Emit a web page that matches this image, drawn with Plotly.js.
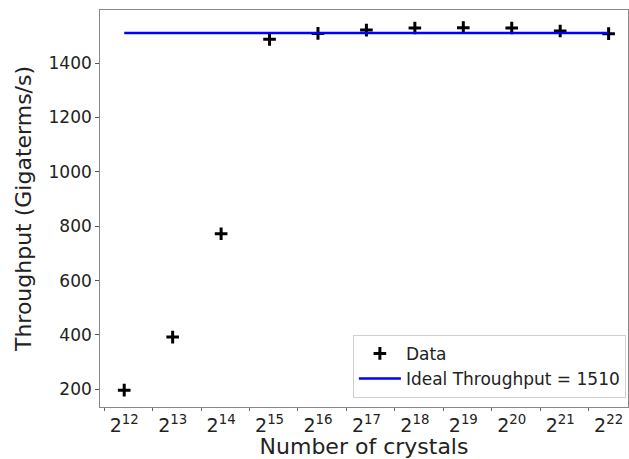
<!DOCTYPE html>
<html>
<head>
<meta charset="utf-8">
<script src="https://cdn.plot.ly/plotly-3.0.1.min.js"></script>
<style>html,body{margin:0;padding:0;background:#fff;}#chart{width:629px;height:459px;}</style>
</head>
<body>
<div id="chart"></div>
<script>
const exponents = [12, 13, 14, 15, 16, 17, 18, 19, 20, 21, 22];
const throughput = [197, 392, 772, 1487, 1509, 1521, 1529, 1530, 1529, 1518, 1508];
const idealValue = 1510;
const idealLabel = "Ideal Throughput = 1510";
const yTicks = [200, 400, 600, 800, 1000, 1200, 1400];
const crystals = exponents.map(e => Math.pow(2, e));
const tickText = exponents.map(e => "2<sup>" + e + "</sup>");
const minorVals = [11].concat(exponents).map(e => 1.5 * Math.pow(2, e));

const traces = [
  {
    x: crystals, y: throughput, type: "scatter", mode: "markers", name: "Data",
    marker: {symbol: "cross-thin-open", size: 9, color: "black", line: {color: "black", width: 3}}
  },
  {
    x: [crystals[0], crystals[crystals.length - 1]], y: [idealValue, idealValue],
    type: "scatter", mode: "lines", name: idealLabel,
    line: {color: "#0000ff", width: 2.5}
  }
];

const layout = {
  width: 629, height: 459,
  margin: {l: 100, r: 1, t: 10, b: 52},
  paper_bgcolor: "white", plot_bgcolor: "white",
  font: {family: "DejaVu Sans, sans-serif", size: 17, color: "#222"},
  showlegend: true,
  legend: {
    x: 0.996, y: 0.023, xanchor: "right", yanchor: "bottom",
    bgcolor: "white", bordercolor: "#d0d0d0", borderwidth: 1,
    itemwidth: 42,
    font: {size: 17, color: "#222"}
  },
  xaxis: {
    type: "log",
    range: [Math.log10(Math.pow(2, 11.5)), Math.log10(Math.pow(2, 22.4))],
    tickvals: crystals, ticktext: tickText,
    ticks: "outside", ticklen: 1, tickcolor: "rgba(0,0,0,0)",
    minor: {tickvals: minorVals, ticks: "outside", ticklen: 2.5, tickcolor: "#666", tickwidth: 1, showgrid: false},
    showgrid: false, zeroline: false,
    showline: true, linecolor: "#888", linewidth: 1.3, mirror: true,
    tickfont: {size: 19, color: "#222"},
    title: {text: "Number of crystals", font: {size: 22, color: "#222"}, standoff: 4}
  },
  yaxis: {
    range: [135, 1595],
    tickvals: yTicks,
    ticks: "outside", ticklen: 3.5, tickcolor: "#555",
    showgrid: false, zeroline: false,
    showline: true, linecolor: "#888", linewidth: 1.3, mirror: true,
    tickfont: {size: 17, color: "#222"},
    title: {text: "Throughput (Gigaterms/s)", font: {size: 22, color: "#222"}, standoff: 10}
  }
};

Plotly.newPlot("chart", traces, layout, {displayModeBar: false, staticPlot: true});
</script>
</body>
</html>
